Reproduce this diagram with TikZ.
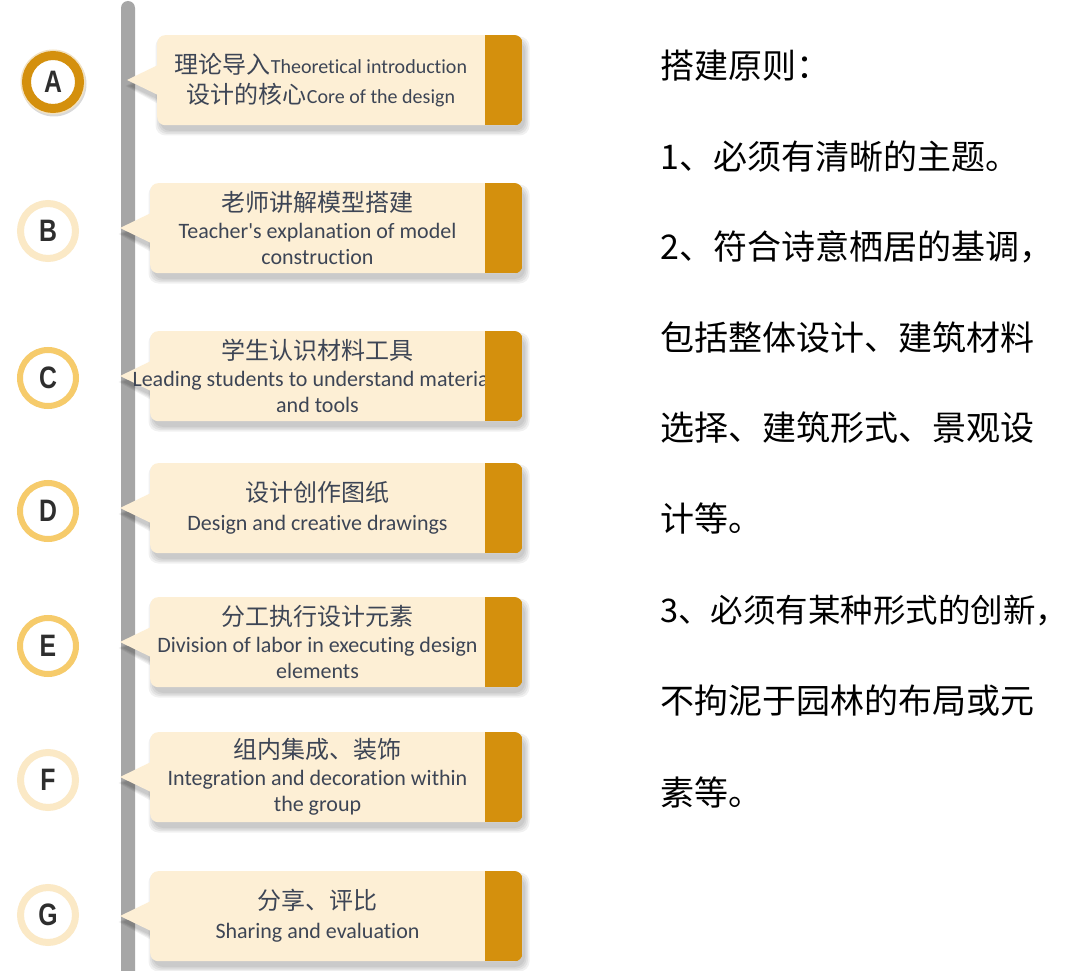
\documentclass[tikz,border=0pt]{standalone}
\usepackage{fontspec}
\setmainfont{Carlito}
\newfontfamily\enfont[Ligatures={NoCommon}]{Carlito}
\newfontfamily\cjk{Noto Sans CJK SC}
\newfontfamily\letterfont[FakeStretch=0.8]{Liberation Sans}
\usetikzlibrary{shadows}
\definecolor{creamc}{HTML}{FDEFD5}
\definecolor{goldc}{HTML}{D4900D}
\definecolor{txtc}{HTML}{3D4555}
\definecolor{barc}{HTML}{A6A6A6}
\definecolor{ringy}{HTML}{F6CB6B}
\definecolor{ringc}{HTML}{FBE9C6}
\definecolor{haloc}{HTML}{F2E2C2}
\definecolor{letterc}{HTML}{2E2E2E}
\tikzset{
  cshad/.style={drop shadow={shadow xshift=1pt, shadow yshift=-2pt, opacity=0.15, fill=black}},
  softshad/.style={fill=black, opacity=0.055},
  boxstyle/.style={rectangle, rounded corners=8pt, fill=creamc, inner sep=0pt, anchor=north west},
  tipstyle/.style={fill=creamc},
  txtstyle/.style={align=center, text=txtc, font=\enfont\fontsize{22}{26}\selectfont, inner sep=0pt},
  letter/.style={circle, inner sep=0pt, text=letterc, font=\letterfont\bfseries\fontsize{31}{31}\selectfont, cshad},
  ringA/.style={letter, fill=white, draw=goldc, line width=9pt, minimum size=53pt},
  ringY/.style={letter, fill=white, draw=ringy, line width=6pt, minimum size=56pt},
  ringC/.style={letter, fill=white, draw=ringc, line width=7pt, minimum size=55pt},
  rtext/.style={anchor=west, inner sep=0pt, font=\cjk\fontsize{34}{34}\selectfont, text=black},
}
\newcommand\zh[1]{{\cjk\fontsize{24}{26}\selectfont #1}}
\newcommand\tlitem[9]{%
  \node[#3] (c#1) at (#4,#5) {#2};
  % soft shadow of the callout
  \foreach \e in {0,1.5,3,4.5}{
    \fill[softshad, rounded corners=10pt] (#7+3-\e,#6+6-\e) rectangle (525+\e,#6+96+\e);
    \fill[softshad] (#7+4,#6+36-\e) -- (#8+3-\e,#6+51) -- (#7+4,#6+66+\e) -- cycle;
  }
  \fill[tipstyle] (#7+1,#6+30) -- (#8,#6+45) -- (#7+1,#6+60) -- cycle;
  \node[boxstyle, minimum width={522pt-#7pt}, minimum height=90pt] (b#1) at (#7,#6) {};
  \node[txtstyle] (t#1) at ({(#7+485)/2},#6+45) {#9};
  \begin{scope}
    \clip[rounded corners=8pt] (b#1.north west) rectangle (b#1.south east);
    \fill[goldc] (485,#6) rectangle (b#1.south east);
  \end{scope}
}
\begin{document}
\begin{tikzpicture}[x=1pt,y=-1pt]
\useasboundingbox (0,0) rectangle (1080,971);
\fill[white] (0,0) rectangle (1080,971);
% vertical bar
\fill[barc, rounded corners=7pt] (121,1) rectangle (135,990);
% halo of A
\fill[haloc, cshad] (53,82) circle (32.5);
\tlitem{a}{A}{ringA}{53}{82}{35}{157}{127}{{\cjk\fontsize{24}{30}\selectfont 理论导入}{\fontsize{20}{30}\selectfont Theoretical introduction}\\[4pt]{\cjk\fontsize{24}{30}\selectfont 设计的核心}{\fontsize{20}{30}\selectfont Core of the design}}
\tlitem{b}{B}{ringC}{48}{231}{183}{150}{120}{\zh{老师讲解模型搭建}\\[1pt]Teacher's explanation of model\\construction}
\tlitem{c}{C}{ringY}{48}{378}{331}{150}{120}{\zh{学生认识材料工具}\\[1pt]Leading students to understand materials\\and tools}
\tlitem{d}{D}{ringY}{48}{511}{463}{150}{120}{\zh{设计创作图纸}\\[3pt]Design and creative drawings}
\tlitem{e}{E}{ringY}{48}{646}{597}{150}{120}{\zh{分工执行设计元素}\\[1pt]Division of labor in executing design\\elements}
\tlitem{f}{F}{ringC}{48}{780}{732}{150}{120}{\zh{组内集成、装饰}\\[1pt]Integration and decoration within\\the group}
\tlitem{g}{G}{ringC}{48}{915}{871}{150}{120}{\zh{分享、评比}\\[3pt]Sharing and evaluation}
% right-hand text
\node[rtext] (r1) at (660,66) {搭建原则：};
\node[rtext] (r2) at (660,157) {1、必须有清晰的主题。};
\node[rtext] (r3) at (660,247) {2、符合诗意栖居的基调，};
\node[rtext] (r4) at (660,338) {包括整体设计、建筑材料};
\node[rtext] (r5) at (660,428) {选择、建筑形式、景观设};
\node[rtext] (r6) at (660,518) {计等。};
\node[rtext, font=\cjk\fontsize{32.5}{34}\selectfont] (r7) at (660,611) {3、必须有某种形式的创新\makebox[0.3em][l]{，}};
\node[rtext] (r8) at (660,701) {不拘泥于园林的布局或元};
\node[rtext] (r9) at (660,792) {素等。};
\end{tikzpicture}
\end{document}
